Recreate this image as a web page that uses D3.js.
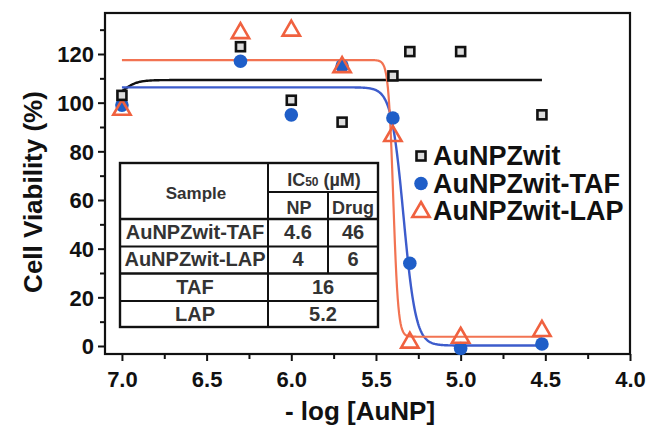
<!DOCTYPE html>
<html>
<head>
<meta charset="utf-8">
<script src="https://cdn.jsdelivr.net/npm/d3@7"></script>
<style>
  html, body { margin: 0; padding: 0; background: #fff; }
  svg { display: block; }
  text { font-family: "Liberation Sans", Arial, sans-serif; font-weight: bold; }
</style>
</head>
<body>
<svg id="chart" width="652" height="431"></svg>
<script>
// Dose levels as -log[AuNP] (0.1, 0.5, 1, 2, 4, 5, 10, 30 µM)
const doses = [7.0, 6.3, 6.0, 5.7, 5.4, 5.3, 5.0, 4.52];

// Cell viability (%) for each sample
const viabilityZwit = [103, 123, 101, 92, 111, 121, 121, 95];
const viabilityTAF  = [99, 117, 95, 115, 93.7, 34, -1, 0.8];
const viabilityLAP  = [97.5, 129, 130, 115, 86.7, 1.8, 3.8, 6.6];

// Logistic fit parameters: [left plateau, right plateau, log midpoint, slope]
const fitZwit = [100, 109.3, 7.0, 10];
const fitTAF  = [106.3, 0.2, -Math.log10(4.6e-6), 12];
const fitLAP  = [117.5, 3.8, -Math.log10(4e-6), 30];
const fitRange = [7.0, 4.52];

// Axis ticks
const xTicks = [7.0, 6.5, 6.0, 5.5, 5.0, 4.5, 4.0];
const xMinorTicks = [6.75, 6.25, 5.75, 5.25, 4.75, 4.25];
const yTicks = [0, 20, 40, 60, 80, 100, 120];
const yMinorTicks = [10, 30, 50, 70, 90, 110, 130];

// Legend entries
const seriesNames = ["AuNPZwit", "AuNPZwit-TAF", "AuNPZwit-LAP"];

// IC50 table
const tableSamples = ["AuNPZwit-TAF", "AuNPZwit-LAP", "TAF", "LAP"];
const tableNP = ["4.6", "4", "16", "5.2"];
const tableDrug = ["46", "6", null, null];

const svg = d3.select("#chart");
const frame = { left: 105, right: 630, top: 13, bottom: 354 };

const x = d3.scaleLinear().domain([7.1, 4.0]).range([frame.left, frame.right]);
const y = d3.scaleLinear().domain([-3.29, 136.85]).range([frame.bottom, frame.top]);

const colors = { zwit: "#111", tafPt: "#1f5ec8", tafLine: "#3d5ccc", lap: "#f0613f", lapLine: "#f27352" };

// Axes with outward ticks
const xAxis = svg.append("g").attr("transform", `translate(0,${frame.bottom})`)
  .call(d3.axisBottom(x).tickValues(xTicks).tickFormat(d3.format(".1f")).tickSize(7).tickSizeOuter(0));
const xMinor = svg.append("g").attr("transform", `translate(0,${frame.bottom})`)
  .call(d3.axisBottom(x).tickValues(xMinorTicks).tickFormat("").tickSize(5).tickSizeOuter(0));
const yAxis = svg.append("g").attr("transform", `translate(${frame.left},0)`)
  .call(d3.axisLeft(y).tickValues(yTicks).tickSize(7).tickSizeOuter(0));
const yMinor = svg.append("g").attr("transform", `translate(${frame.left},0)`)
  .call(d3.axisLeft(y).tickValues(yMinorTicks).tickFormat("").tickSize(5).tickSizeOuter(0));

[xAxis, xMinor, yAxis, yMinor].forEach(g => {
  g.select(".domain").remove();
  g.selectAll(".tick line").attr("stroke", "#111").attr("stroke-width", 2);
});
xAxis.selectAll(".tick text").attr("font-size", 22).attr("fill", "#111").attr("dy", "1.05em");
yAxis.selectAll(".tick text").attr("font-size", 22).attr("fill", "#111").attr("x", -11).attr("dy", "0.36em");

// Frame
svg.append("rect")
  .attr("x", frame.left).attr("y", frame.top)
  .attr("width", frame.right - frame.left).attr("height", frame.bottom - frame.top)
  .attr("fill", "none").attr("stroke", "#111").attr("stroke-width", 2.2);

// Axis titles
svg.append("text")
  .attr("x", 360).attr("y", 420)
  .attr("text-anchor", "middle").attr("font-size", 26).attr("fill", "#111")
  .text("- log [AuNP]");
svg.append("text")
  .attr("transform", "translate(42,192) rotate(-90)")
  .attr("text-anchor", "middle").attr("font-size", 26).attr("fill", "#111")
  .text("Cell Viability (%)");

// Fitted curves
function logistic(p) {
  const [left, right, mid, slope] = p;
  return v => left + (right - left) / (1 + Math.pow(10, slope * (v - mid)));
}
const samples = d3.range(0, 601).map(i => fitRange[0] + (fitRange[1] - fitRange[0]) * i / 600);
const line = d3.line().x(d => x(d[0])).y(d => y(d[1]));
[[fitZwit, colors.zwit, 2.4], [fitTAF, colors.tafLine, 2.4], [fitLAP, colors.lapLine, 2.2]].forEach(([p, c, w]) => {
  const f = logistic(p);
  svg.append("path")
    .datum(samples.map(v => [v, f(v)]))
    .attr("d", line).attr("fill", "none").attr("stroke", c).attr("stroke-width", w);
});

// Markers
const triangle = d3.symbol().type(d3.symbolTriangle).size(130);
function drawCircle(g, cx, cy) {
  g.append("circle").attr("cx", cx).attr("cy", cy).attr("r", 6.8).attr("fill", colors.tafPt);
}
function drawTriangle(g, cx, cy) {
  g.append("path").attr("d", triangle).attr("transform", `translate(${cx},${cy + 1})`)
    .attr("fill", "none").attr("stroke", colors.lap).attr("stroke-width", 2.6);
}
function drawSquare(g, cx, cy) {
  g.append("rect").attr("x", cx - 4.5).attr("y", cy - 4.5).attr("width", 9).attr("height", 9)
    .attr("fill", "#ddd").attr("stroke", "#111").attr("stroke-width", 2.6);
}

const pts = svg.append("g");
doses.forEach((d, i) => drawCircle(pts, x(d), y(viabilityTAF[i])));
doses.forEach((d, i) => drawTriangle(pts, x(d), y(viabilityLAP[i])));
doses.forEach((d, i) => drawSquare(pts, x(d), y(viabilityZwit[i])));

// Legend
const legend = svg.append("g");
const legendMarkers = [drawSquare, drawCircle, drawTriangle];
seriesNames.forEach((name, i) => {
  const baseline = 165 + i * 27.5;
  legendMarkers[i](legend, 421, baseline - 9);
  legend.append("text").attr("x", 433).attr("y", baseline)
    .attr("font-size", 27).attr("fill", "#111").text(name);
});

// IC50 table
const tbl = svg.append("g");
const T = { left: 120, right: 378, top: 163, split: 192, head: 219, rows: [219, 246.5, 273.5, 301, 327], col1: 268, col2: 328 };
tbl.append("rect").attr("x", T.left).attr("y", T.top)
  .attr("width", T.right - T.left).attr("height", T.rows[4] - T.top)
  .attr("fill", "#fff").attr("stroke", "#111").attr("stroke-width", 2.4);
const hl = (x1, x2, yy, w) => tbl.append("line").attr("x1", x1).attr("x2", x2).attr("y1", yy).attr("y2", yy)
  .attr("stroke", "#111").attr("stroke-width", w);
const vl = (xx, y1, y2, w) => tbl.append("line").attr("x1", xx).attr("x2", xx).attr("y1", y1).attr("y2", y2)
  .attr("stroke", "#111").attr("stroke-width", w);
hl(T.col1, T.right, T.split, 2);
hl(T.left, T.right, T.head, 2.4);
hl(T.left, T.right, T.rows[1], 2);
hl(T.left, T.right, T.rows[2], 2.4);
hl(T.left, T.right, T.rows[3], 2);
vl(T.col1, T.top, T.rows[4], 2);
vl(T.col2, T.split, T.rows[2], 2);

const cell = (tx, ty, s, size) => tbl.append("text").attr("x", tx).attr("y", ty)
  .attr("text-anchor", "middle").attr("font-size", size).attr("fill", "#333").text(s);
cell(196, 199, "Sample", 17);
const ic = tbl.append("text").attr("x", 324).attr("y", 186).attr("text-anchor", "middle")
  .attr("font-size", 18).attr("fill", "#333");
ic.append("tspan").text("IC");
ic.append("tspan").attr("font-size", 12).text("50");
ic.append("tspan").text(" (µM)");
cell(299, 214, "NP", 18);
cell(353, 214, "Drug", 18);

const baselines = [239, 266, 294, 321];
tableSamples.forEach((s, i) => {
  cell(195, baselines[i], s, 20);
  if (tableDrug[i] !== null) {
    cell(298, baselines[i], tableNP[i], 20);
    cell(353, baselines[i], tableDrug[i], 20);
  } else {
    cell(323, baselines[i], tableNP[i], 20);
  }
});
</script>
</body>
</html>
